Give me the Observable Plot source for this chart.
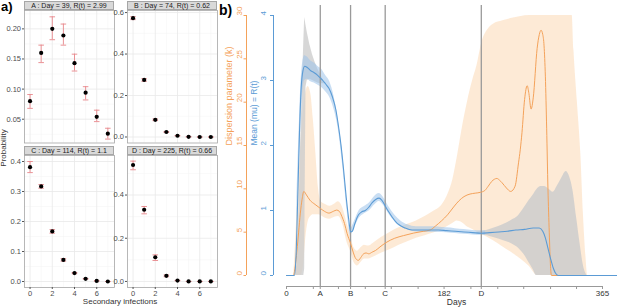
<!DOCTYPE html>
<html><head><meta charset="utf-8">
<script src="https://cdn.jsdelivr.net/npm/d3@7"></script>
<script src="https://cdn.jsdelivr.net/npm/@observablehq/plot@0.6"></script>
<style>
body{margin:0;background:#fff;font-family:"Liberation Sans",Arial,sans-serif;}
#root{position:relative;width:617px;height:307px;overflow:hidden;background:#fff;}
.abs{position:absolute;}
.strip{position:absolute;background:#d9d9d9;border:0.8px solid #a6a6a6;box-sizing:border-box;font-size:7px;color:#1a1a1a;text-align:center;line-height:8px;white-space:nowrap;}
svg{overflow:visible;}
</style></head><body><div id="root"></div>
<script>
// ---------- panel a data ----------
const ks = [0, 1, 2, 3, 4, 5, 6, 7];
const stripLabels = ["A : Day = 39,  R(t) = 2.99", "B : Day = 74,  R(t) = 0.62", "C : Day = 114,  R(t) = 1.1", "D : Day = 225,  R(t) = 0.66"];
const pA  = [0.080, 0.160, 0.200, 0.189, 0.143, 0.094, 0.054, 0.026];
const loA = [0.068, 0.144, 0.182, 0.173, 0.130, 0.082, 0.046, 0.017];
const hiA = [0.091, 0.173, 0.220, 0.208, 0.158, 0.104, 0.065, 0.035];
const pB  = [0.573, 0.275, 0.083, 0.024, 0.006, 0.001, 0.000, 0.000];
const loB = [0.566, 0.269, 0.079, 0.022, 0.005, 0.001, 0.000, 0.000];
const hiB = [0.580, 0.281, 0.087, 0.026, 0.007, 0.001, 0.000, 0.000];
const pC  = [0.381, 0.317, 0.167, 0.072, 0.028, 0.009, 0.002, 0.000];
const loC = [0.363, 0.311, 0.161, 0.068, 0.026, 0.008, 0.002, 0.000];
const hiC = [0.400, 0.323, 0.173, 0.076, 0.030, 0.010, 0.002, 0.000];
const pD  = [0.539, 0.332, 0.112, 0.026, 0.004, 0.000, 0.000, 0.000];
const loD = [0.517, 0.313, 0.097, 0.022, 0.003, 0.000, 0.000, 0.000];
const hiD = [0.557, 0.347, 0.123, 0.030, 0.005, 0.000, 0.000, 0.000];
const xMajor = [0, 2, 4, 6];
const xMinor = [1, 3, 5, 7];
const yMajorA = [0.05, 0.10, 0.15, 0.20];
const yMinorA = [0.025, 0.075, 0.125, 0.175, 0.225];
const yMajorB = [0.0, 0.2, 0.4, 0.6];
const yMinorB = [0.1, 0.3, 0.5];
const yMajorC = [0.0, 0.1, 0.2, 0.3, 0.4];
const yMinorC = [0.05, 0.15, 0.25, 0.35];
const yMajorD = [0.0, 0.2, 0.4];
const yMinorD = [0.1, 0.3, 0.5];

// ---------- panel b data ----------
const markDays = [39, 74, 114, 225];
const dayTicks = [0, 31, 39, 60, 74, 91, 114, 121, 152, 182, 213, 225, 244, 274, 305, 335, 365];
const dayTickLabels = new Map([[0, "0"], [39, "A"], [74, "B"], [114, "C"], [182, "182"], [225, "D"], [365, "365"]]);
const muTicks = [0, 1, 2, 3, 4];
const kTicks = [0, 5, 10, 15, 20, 25, 30];
const kMax = 30, muMax = 4;

const obDay = [0, 8, 10, 12, 14, 16, 18, 20, 22, 25, 28, 31, 34, 37, 40, 45, 50, 55, 60, 65, 70, 74, 78, 82, 86, 90, 95, 100, 110, 120, 130, 140, 150, 160, 170, 180, 187, 192, 197, 203, 209, 215, 220, 226, 232, 239, 250, 262, 280, 290, 330, 332, 336, 340, 343, 346, 348, 365];
const obHi = [0, 0, 3, 7, 10.5, 14, 17, 19.5, 21, 21.8, 21, 18, 14, 10, 8.5, 8.2, 8.0, 8.2, 8.5, 7.8, 6.0, 4.6, 3.2, 2.8, 3.2, 3.5, 3.4, 3.7, 4.4, 5.0, 5.5, 5.9, 6.3, 6.8, 7.4, 8.2, 9.5, 11, 13.5, 17, 20, 22.5, 24.2, 27, 28.3, 29, 29.4, 29.7, 30, 30, 30, 26, 20, 14, 7, 2, 0, 0];
const obLo = [0, 0, 0, 0, 0, 0, 0.3, 1.5, 4, 6.2, 6.8, 7.0, 7.0, 7.0, 6.9, 6.6, 6.5, 6.7, 6.8, 5.9, 3.8, 2.8, 1.5, 1.1, 1.5, 1.9, 1.9, 2.1, 2.6, 3.0, 3.5, 3.9, 4.3, 4.6, 4.9, 5.3, 5.7, 6.0, 6.3, 6.1, 5.6, 5.3, 5.0, 4.7, 4.4, 4.0, 3.3, 2.5, 1.1, 0, 0, 0, 0, 0, 0, 0, 0, 0];

const olDay = [0, 8, 10, 12, 14, 16, 18, 20, 23, 27, 33, 39, 44, 49, 54, 58, 61, 64, 67, 70, 74, 77, 80, 83, 86, 89, 92, 95, 99, 103, 108, 115, 125, 135, 147, 158, 166, 172, 179, 186, 193, 199, 205, 212, 218, 224, 229, 233, 237, 240, 243, 246, 249, 254, 259, 264, 268, 270, 272, 275, 278, 280, 282.5, 285, 289.5, 292, 294, 296, 297.5, 299, 300.5, 302, 303.5, 305, 306, 384];
const olK = [0, 0, 1.0, 2.8, 5.0, 7.2, 8.8, 9.7, 9.3, 8.7, 8.2, 7.75, 7.4, 7.2, 7.4, 7.55, 7.4, 6.8, 6.0, 4.85, 3.7, 2.7, 1.95, 1.75, 2.1, 2.5, 2.6, 2.5, 2.7, 2.9, 3.3, 3.8, 4.3, 4.6, 4.9, 5.1, 5.25, 5.7, 6.3, 7.0, 7.9, 8.6, 9.1, 9.4, 9.5, 9.6, 9.8, 10.3, 10.85, 11.1, 11.2, 11.0, 10.7, 10.1, 9.7, 10.3, 13, 14.5, 16.5, 20.3, 21.9, 21.0, 19.2, 20.5, 26.2, 27.8, 28.3, 27.8, 26.5, 23, 17, 10, 5, 1, 0, 0];

const blDay = [0, 9, 11, 13, 15, 17, 19, 21, 24, 28, 32, 36, 39, 42, 45, 49, 53, 57, 60, 63, 66, 69, 72, 74, 76, 79, 83, 87, 91, 95, 99, 103, 107, 110, 114, 118, 122, 126, 130, 137, 145, 155, 165, 175, 185, 195, 205, 215, 225, 235, 245, 255, 265, 275, 285, 292, 296, 299, 302, 305, 308, 311, 314, 384];
const blMu = [0, 0, 0.3, 1.2, 2.2, 2.9, 3.15, 3.22, 3.2, 3.15, 3.12, 3.08, 3.04, 3.0, 2.95, 2.88, 2.75, 2.55, 2.3, 2.0, 1.62, 1.2, 0.85, 0.67, 0.68, 0.8, 0.93, 0.98, 1.0, 1.05, 1.12, 1.17, 1.19, 1.16, 1.07, 0.98, 0.9, 0.83, 0.78, 0.73, 0.70, 0.70, 0.70, 0.70, 0.69, 0.68, 0.67, 0.66, 0.65, 0.66, 0.67, 0.68, 0.70, 0.71, 0.73, 0.73, 0.68, 0.58, 0.42, 0.26, 0.12, 0.03, 0, 0];

const bbDay = [12, 15, 18, 21, 24, 28, 32, 36, 40, 45, 50, 55, 60, 65, 70, 74, 78, 84, 90, 96, 102, 107, 112, 118, 125, 132, 140, 150, 160, 170, 180, 190, 200, 210, 220, 230];
const bbLo = [0.7, 1.8, 2.7, 3.0, 3.02, 2.98, 2.96, 2.93, 2.9, 2.83, 2.74, 2.55, 2.24, 1.68, 1.0, 0.62, 0.72, 0.88, 0.95, 1.0, 1.09, 1.14, 1.08, 0.95, 0.83, 0.75, 0.70, 0.67, 0.66, 0.66, 0.66, 0.65, 0.64, 0.63, 0.62, 0.62];
const bbHi = [1.2, 2.4, 3.2, 3.38, 3.36, 3.3, 3.27, 3.22, 3.18, 3.08, 2.98, 2.75, 2.37, 1.85, 1.14, 0.72, 0.82, 1.0, 1.06, 1.12, 1.22, 1.26, 1.2, 1.06, 0.93, 0.84, 0.78, 0.75, 0.75, 0.75, 0.74, 0.73, 0.71, 0.70, 0.69, 0.69];

const geDay = [10, 12.5, 14.5, 16.5, 18.5, 20, 21, 21.5, 22.5, 24, 27, 30, 33, 36, 39, 42, 44];
const geHi = [0, 0.2, 1.0, 2.1, 3.0, 3.6, 3.97, 3.93, 3.85, 3.74, 3.55, 3.4, 3.28, 3.18, 3.1, 3.02, 2.97];
const geLo = [0, 0, 0, 0, 0, 0, 0.1, 1.2, 2.9, 3.0, 3.02, 3.0, 2.98, 2.96, 2.95, 2.95, 2.95];

const glDay = [220, 230, 240, 250, 260, 268, 274, 280, 285, 289, 294, 298, 303, 308, 313, 318, 323, 327, 331, 335, 339, 343, 347];
const glHi = [0.66, 0.69, 0.73, 0.78, 0.85, 0.92, 1.03, 1.15, 1.24, 1.32, 1.37, 1.37, 1.33, 1.28, 1.38, 1.5, 1.6, 1.52, 1.3, 0.9, 0.5, 0.15, 0];
const glLo = [0.64, 0.62, 0.58, 0.54, 0.49, 0.42, 0.33, 0.2, 0.09, 0, 0, 0, 0, 0, 0, 0, 0, 0, 0, 0, 0, 0, 0];

// ---------- build ----------
const root = document.getElementById("root");
const FONT = '"Liberation Sans", Arial, sans-serif';
const errColor = "#e8868a";
const blue = "#5b9bd5";
const orange = "#f4a25a";

function place(node, left, top, w) {
  const d = document.createElement("div");
  d.className = "abs";
  d.style.left = left + "px"; d.style.top = top + "px";
  if (w) d.style.width = w + "px";
  d.appendChild(node);
  root.appendChild(d);
  return d;
}
function html(text, css) {
  const d = document.createElement("div");
  d.className = "abs";
  d.textContent = text;
  Object.assign(d.style, css);
  root.appendChild(d);
  return d;
}

function facet(p, lo, hi, cfg) {
  const rows = ks.map((k, i) => ({k, p: p[i], lo: lo[i], hi: hi[i]}));
  return Plot.plot({
    width: cfg.w, height: cfg.h,
    marginLeft: cfg.ml, marginRight: 0, marginTop: 0, marginBottom: cfg.mb,
    x: {domain: [-0.5, 7.6], axis: null},
    y: {domain: cfg.domain, axis: null},
    style: {fontFamily: FONT, fontSize: "7.5px", color: "#4d4d4d", background: "transparent", overflow: "visible"},
    marks: [
      Plot.gridX(xMinor, {stroke: "#f3f3f3", strokeOpacity: 1, strokeWidth: 0.5}),
      Plot.gridY(cfg.minor, {stroke: "#f3f3f3", strokeOpacity: 1, strokeWidth: 0.5}),
      Plot.gridX(xMajor, {stroke: "#e8e8e8", strokeOpacity: 1, strokeWidth: 0.8}),
      Plot.gridY(cfg.major, {stroke: "#e8e8e8", strokeOpacity: 1, strokeWidth: 0.8}),
      Plot.ruleX(rows, {x: "k", y1: "lo", y2: "hi", stroke: errColor, strokeWidth: 0.9}),
      Plot.link(rows, {x1: d => d.k - 0.25, x2: d => d.k + 0.25, y1: "lo", y2: "lo", stroke: errColor, strokeWidth: 0.9}),
      Plot.link(rows, {x1: d => d.k - 0.25, x2: d => d.k + 0.25, y1: "hi", y2: "hi", stroke: errColor, strokeWidth: 0.9}),
      Plot.dot(rows, {x: "k", y: "p", r: 2.1, fill: "#000", stroke: "none"}),
      Plot.frame({stroke: "#a6a6a6", strokeWidth: 0.8}),
      Plot.axisY(cfg.major, {anchor: "left", tickSize: 2, tickPadding: 1.5, tickFormat: cfg.fmt, stroke: "#555", fill: "#4d4d4d", label: null}),
      cfg.bottom ? Plot.axisX(xMajor, {anchor: "bottom", tickSize: 2, tickPadding: 1, stroke: "#555", fill: "#4d4d4d", label: null}) : null
    ]
  });
}

const f2 = d3.format(".2f"), f1 = d3.format(".1f");
place(facet(pA, loA, hiA, {w: 114, h: 132.5, ml: 24, mb: 0, domain: [0.0105, 0.2305], major: yMajorA, minor: yMinorA, fmt: f2, bottom: false}), 0, 9.5, 114);
place(facet(pB, loB, hiB, {w: 113, h: 132.5, ml: 23, mb: 0, domain: [-0.029, 0.61], major: yMajorB, minor: yMinorB, fmt: f1, bottom: false}), 104, 9.5, 113);
place(facet(pC, loC, hiC, {w: 114, h: 146, ml: 24, mb: 14, domain: [-0.02, 0.42], major: yMajorC, minor: yMinorC, fmt: f1, bottom: true}), 0, 155, 114);
place(facet(pD, loD, hiD, {w: 113, h: 146, ml: 23, mb: 14, domain: [-0.028, 0.583], major: yMajorD, minor: yMinorD, fmt: f1, bottom: true}), 104, 155, 113);

const stripPos = [[24, 0.5], [127, 0.5], [24, 146], [127, 146]];
stripLabels.forEach((s, i) => {
  const d = document.createElement("div");
  d.className = "strip";
  d.textContent = s;
  Object.assign(d.style, {left: stripPos[i][0] + "px", top: stripPos[i][1] + "px", width: "90px", height: "9px"});
  root.appendChild(d);
});

html("a)", {left: "1px", top: "0px", fontSize: "13px", fontWeight: "bold", color: "#000", lineHeight: "14px"});
html("Secondary infections", {left: "60px", top: "297px", width: "120px", textAlign: "center", fontSize: "8px", color: "#333", lineHeight: "10px"});
html("Probability", {left: "-26px", top: "143px", width: "60px", textAlign: "center", fontSize: "8px", color: "#333", lineHeight: "10px", transform: "rotate(-90deg)"});
html("b)", {left: "219px", top: "3px", fontSize: "14px", fontWeight: "bold", color: "#000", lineHeight: "15px"});

// panel b
const obRows = obDay.map((d, i) => ({day: d, lo: obLo[i] * muMax / kMax, hi: obHi[i] * muMax / kMax}));
const olRows = olDay.map((d, i) => ({day: d, v: olK[i] * muMax / kMax}));
const blRows = blDay.map((d, i) => ({day: d, v: blMu[i]}));
const bbRows = bbDay.map((d, i) => ({day: d, lo: bbLo[i], hi: bbHi[i]}));
const geRows = geDay.map((d, i) => ({day: d, lo: geLo[i], hi: geHi[i]}));
const glRows = glDay.map((d, i) => ({day: d, lo: glLo[i], hi: glHi[i]}));
const kTickPos = kTicks.map(k => ({y: k * muMax / kMax, t: String(k)}));

const pb = Plot.plot({
  width: 399, height: 307,
  marginLeft: 68, marginRight: 15, marginTop: 15, marginBottom: 32,
  x: {domain: [0, 365], axis: null},
  y: {domain: [0, muMax], axis: null},
  style: {fontFamily: FONT, fontSize: "8px", background: "transparent", overflow: "visible"},
  marks: [
    Plot.areaY(obRows, {x: "day", y1: "lo", y2: "hi", fill: "#fde6cf", fillOpacity: 0.85, curve: "monotone-x"}),
    Plot.areaY(geRows, {x: "day", y1: "lo", y2: "hi", fill: "#cdcdcd", fillOpacity: 0.8, curve: "linear"}),
    Plot.areaY(glRows, {x: "day", y1: "lo", y2: "hi", fill: "#cdcdcd", fillOpacity: 0.85, curve: "monotone-x"}),
    Plot.areaY(bbRows, {x: "day", y1: "lo", y2: "hi", fill: "#9cc3ea", fillOpacity: 0.55, curve: "monotone-x"}),
    Plot.ruleX(markDays, {stroke: "#9a9a9a", strokeWidth: 1.3, insetTop: -10, insetBottom: -11}),
    Plot.lineY(olRows, {x: "day", y: "v", stroke: orange, strokeWidth: 1, curve: "monotone-x"}),
    Plot.lineY(blRows, {x: "day", y: "v", stroke: blue, strokeWidth: 1.1, curve: "monotone-x"}),
    Plot.ruleY([0], {x1: 0, x2: 365, dy: 11, stroke: "#999"}),
    Plot.axisX(dayTicks, {anchor: "bottom", tickSize: 3, tickPadding: 0.5, dy: 11, fontSize: 8, tickFormat: d => dayTickLabels.get(d) ?? "", stroke: "#999", fill: "#333", label: null}),
    Plot.text(["Days"], {frameAnchor: "bottom", dy: 29, dx: 12, fill: "#333", fontSize: 8.5}),
    Plot.ruleX([0], {y1: 0, y2: muMax, dx: -13, stroke: blue}),
    Plot.axisY(muTicks, {anchor: "left", dx: -13, tickSize: 3, stroke: blue, fill: "none", label: null}),
    Plot.text(muTicks, {y: d => d, text: d => String(d), frameAnchor: "left", dx: -23, rotate: -90, fill: blue, fontSize: 8}),
    Plot.text(["Mean (mu) = R(t)"], {frameAnchor: "left", dx: -32, rotate: -90, fill: blue, fontSize: 8.5}),
    Plot.ruleX([0], {y1: 0, y2: muMax, dx: -40, stroke: orange}),
    Plot.axisY(kTickPos.map(d => d.y), {anchor: "left", dx: -40, tickSize: 2.5, stroke: orange, fill: "none", label: null}),
    Plot.text(kTickPos, {y: "y", text: "t", frameAnchor: "left", dx: -47, rotate: -90, fill: orange, fontSize: 8}),
    Plot.text(["Dispersion parameter (k)"], {frameAnchor: "left", dx: -57, rotate: -90, fill: orange, fontSize: 9})
  ]
});
place(pb, 218, 0, 399);
</script></body></html>
